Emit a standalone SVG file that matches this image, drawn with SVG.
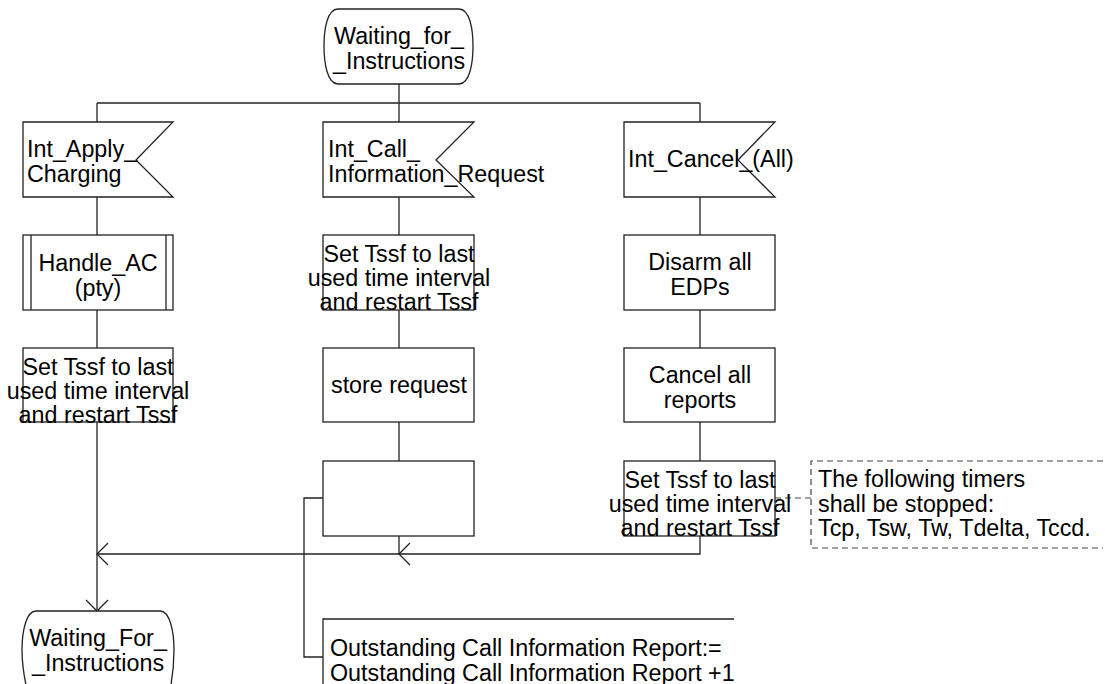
<svg xmlns="http://www.w3.org/2000/svg" width="1105" height="684" viewBox="0 0 1105 684">
<style>
.s{fill:#fff;stroke:#222;stroke-width:1.3}
.l{fill:none;stroke:#222;stroke-width:1.3}
.d{fill:none;stroke:#444;stroke-width:1.2;stroke-dasharray:6,4}
text{font-family:"Liberation Sans",Arial,sans-serif;font-size:23.3px;fill:#000}
.c{text-anchor:middle}
</style>
<rect width="1105" height="684" fill="#fff"/>
<g id="connectors">
<path class="l" d="M399,84 V103 M97,103 H700 M97,103 V122 M399,103 V122 M700,103 V122"/>
<path class="l" d="M97,197 V235 M399,197 V235 M700,197 V235"/>
<path class="l" d="M97,310 V348 M399,310 V348 M700,310 V348"/>
<path class="l" d="M399,422 V461 M700,422 V461"/>
<path class="l" d="M97,422 V611"/>
<path class="l" d="M399,536 V554 M700,536 V554 H97"/>
<path class="l" d="M410,543 L399,554 L410,565 M108,543 L97,554 L108,565 M86,600 L97,611 L108,600"/>
<path class="l" d="M323,498 H304 V657 H323"/>
<path class="d" d="M775,498 H811"/>
</g>
<g id="state_top">
<path class="s" d="M338,9 H459 C470,9 473,30 473,46 C473,62 470,84 459,84 H338 C327,84 324,62 324,46 C324,30 327,9 338,9 Z"/>
<text class="c" x="399" y="44">Waiting_for_</text>
<text class="c" x="399" y="69">_Instructions</text>
</g>
<g id="in_apply">
<polygon class="s" points="23,122 173,122 136,160 173,197 23,197"/>
<text x="27" y="157">Int_Apply_</text>
<text x="27" y="182">Charging</text>
</g>
<g id="in_call">
<polygon class="s" points="323,122 474,122 436,160 474,197 323,197"/>
<text x="328" y="157">Int_Call_</text>
<text x="328" y="182">Information_Request</text>
</g>
<g id="in_cancel">
<polygon class="s" points="624,122 775,122 738,160 775,197 624,197"/>
<text x="628" y="167">Int_Cancel_(All)</text>
</g>
<g id="handle_ac">
<rect class="s" x="23" y="235" width="150" height="75"/>
<path class="l" d="M31,235 V310 M166,235 V310"/>
<text class="c" x="98" y="271">Handle_AC</text>
<text class="c" x="98" y="296">(pty)</text>
</g>
<g id="task_left">
<rect class="s" x="23" y="348" width="150" height="74"/>
<text class="c" x="98" y="375">Set Tssf to last</text>
<text class="c" x="98" y="399">used time interval</text>
<text class="c" x="98" y="423">and restart Tssf</text>
</g>
<g id="task_mid1">
<rect class="s" x="323" y="235" width="151" height="75"/>
<text class="c" x="399" y="262">Set Tssf to last</text>
<text class="c" x="399" y="286">used time interval</text>
<text class="c" x="399" y="310">and restart Tssf</text>
</g>
<g id="task_store">
<rect class="s" x="323" y="348" width="151" height="74"/>
<text class="c" x="399" y="393">store request</text>
</g>
<g id="task_empty">
<rect class="s" x="323" y="461" width="151" height="75"/>
</g>
<g id="task_disarm">
<rect class="s" x="624" y="235" width="151" height="75"/>
<text class="c" x="700" y="270">Disarm all</text>
<text class="c" x="700" y="295">EDPs</text>
</g>
<g id="task_cancel">
<rect class="s" x="624" y="348" width="151" height="74"/>
<text class="c" x="700" y="383">Cancel all</text>
<text class="c" x="700" y="408">reports</text>
</g>
<g id="task_right">
<rect class="s" x="624" y="461" width="151" height="75"/>
<text class="c" x="700" y="488">Set Tssf to last</text>
<text class="c" x="700" y="512">used time interval</text>
<text class="c" x="700" y="536">and restart Tssf</text>
</g>
<g id="comment_timers">
<path class="d" d="M1103,461 H811 V548 H1103"/>
<text x="818" y="487">The following timers</text>
<text x="818" y="512">shall be stopped:</text>
<text x="818" y="536">Tcp, Tsw, Tw, Tdelta, Tccd.</text>
</g>
<g id="state_bottom">
<path class="s" d="M36,611 H160 C170,611 174,632 174,650 C174,668 172,680 170,690 H27 C25,680 22,668 22,650 C22,632 26,611 36,611 Z"/>
<text class="c" x="98" y="646">Waiting_For_</text>
<text class="c" x="98" y="671">_Instructions</text>
</g>
<g id="annotation">
<path class="l" d="M734,619 H323 V690"/>
<text x="330" y="656">Outstanding Call Information Report:=</text>
<text x="330" y="681">Outstanding Call Information Report +1</text>
</g>
</svg>
